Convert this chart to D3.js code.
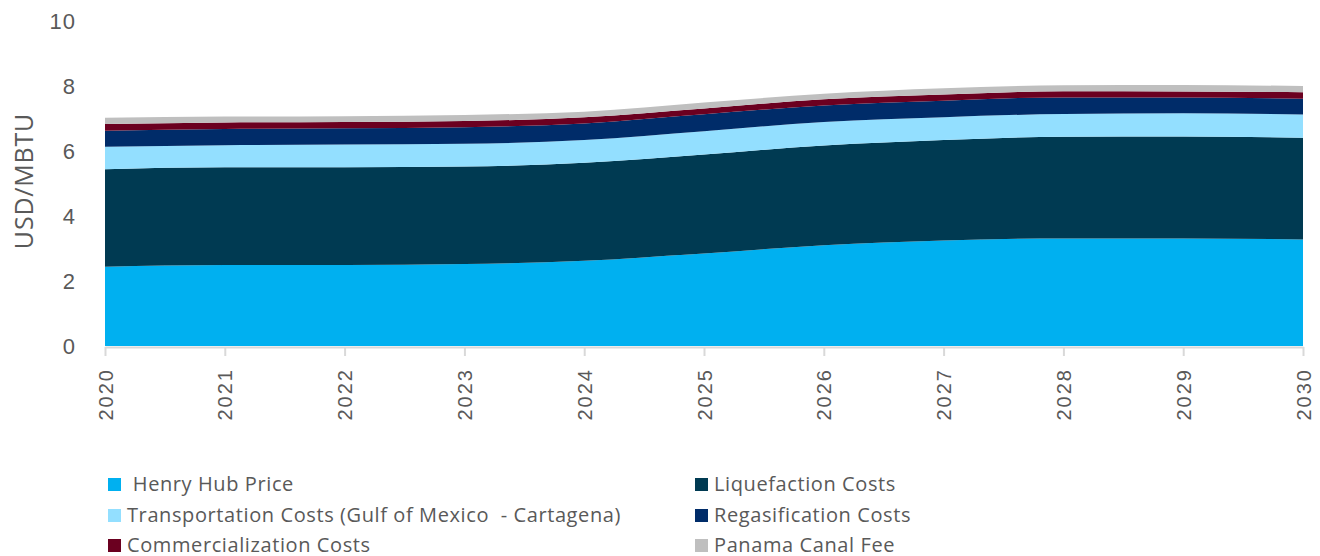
<!DOCTYPE html>
<html>
<head>
<meta charset="utf-8">
<script src="https://cdn.jsdelivr.net/npm/d3@7"></script>
<style>
  html, body { margin: 0; padding: 0; background: #fff; }
  svg { display: block; font-family: "Open Sans", Lato, sans-serif; }
</style>
</head>
<body>
<svg id="chart" width="1320" height="556"></svg>
<script>
// Years on the horizontal axis
const years = [2020, 2021, 2022, 2023, 2024, 2025, 2026, 2027, 2028, 2029, 2030];

// Cost components, USD/MBTU
const henryHub       = [2.44, 2.49, 2.49, 2.52, 2.62, 2.85, 3.10, 3.25, 3.31, 3.31, 3.28];
const liquefaction   = [3.00, 3.01, 3.01, 3.00, 3.02, 3.04, 3.07, 3.09, 3.13, 3.14, 3.13];
const transportation = [0.69, 0.68, 0.70, 0.70, 0.70, 0.72, 0.72, 0.70, 0.70, 0.71, 0.71];
const regasification = [0.49, 0.50, 0.50, 0.51, 0.51, 0.52, 0.51, 0.51, 0.51, 0.49, 0.49];
const commercial     = [0.21, 0.20, 0.19, 0.19, 0.19, 0.18, 0.19, 0.19, 0.19, 0.18, 0.20];
const panamaFee      = [0.19, 0.18, 0.18, 0.19, 0.17, 0.18, 0.17, 0.19, 0.18, 0.20, 0.19];

const yTicks = [0, 2, 4, 6, 8, 10];

const series = [
  { key: "hh",    label: " Henry Hub Price", values: henryHub,       color: "#00B0F0" },
  { key: "liq",   label: "Liquefaction Costs", values: liquefaction, color: "#003A52" },
  { key: "trans", label: "Transportation Costs (Gulf of Mexico  - Cartagena)", values: transportation, color: "#93DFFF" },
  { key: "regas", label: "Regasification Costs", values: regasification, color: "#002C69" },
  { key: "comm",  label: "Commercialization Costs", values: commercial, color: "#6B0020" },
  { key: "pan",   label: "Panama Canal Fee", values: panamaFee, color: "#BFBFBF" }
];

const rows = years.map((yr, i) => {
  const r = { year: yr };
  series.forEach(s => r[s.key] = s.values[i]);
  return r;
});

const svg = d3.select("#chart");
const W = 1320;

const x = d3.scaleLinear().domain([2020, 2030]).range([105, W - 17]);
const y = d3.scaleLinear().domain([0, 10]).range([346, 21]);

const stack = d3.stack().keys(series.map(s => s.key));
const layers = stack(rows);

const area = d3.area()
  .x(d => x(d.data.year))
  .y0(d => y(d[0]))
  .y1(d => y(d[1]))
  .curve(d3.curveMonotoneX);

svg.append("g").selectAll("path")
  .data(layers)
  .join("path")
  .attr("d", area)
  .attr("fill", (d, i) => series[i].color);

// Category axis
const xAxis = svg.append("g").attr("transform", `translate(0,${y(0) + 1})`)
  .call(d3.axisBottom(x).tickValues(years).tickFormat(d3.format("d")).tickSize(9).tickSizeOuter(0));
xAxis.select(".domain").attr("stroke", "#D9D9D9").attr("stroke-width", 2);
xAxis.selectAll(".tick line").attr("stroke", "#D9D9D9").attr("stroke-width", 2);
xAxis.selectAll(".tick text")
  .attr("fill", "#595959")
  .attr("font-size", 20)
  .attr("letter-spacing", 2)
  .attr("transform", "rotate(-90)")
  .attr("text-anchor", "end")
  .attr("x", -21)
  .attr("y", 0)
  .attr("dy", "0.35em");

// Value axis labels
const yAxis = svg.append("g").attr("transform", `translate(76,0)`)
  .call(d3.axisLeft(y).tickValues(yTicks).tickSize(0).tickPadding(0));
yAxis.select(".domain").remove();
yAxis.selectAll(".tick text")
  .attr("fill", "#595959")
  .attr("font-size", 22)
  .attr("letter-spacing", 1);

svg.append("text")
  .attr("transform", `translate(33,181) rotate(-90)`)
  .attr("text-anchor", "middle")
  .attr("fill", "#595959")
  .attr("font-size", 25)
  .attr("letter-spacing", 0.8)
  .text("USD/MBTU");

// Legend in two columns
const legendPos = [
  { x: 108, y: 491 }, { x: 695, y: 491 },
  { x: 108, y: 522 }, { x: 695, y: 522 },
  { x: 108, y: 552 }, { x: 695, y: 552 }
];
const legend = svg.append("g").selectAll("g")
  .data(series)
  .join("g")
  .attr("transform", (d, i) => `translate(${legendPos[i].x},${legendPos[i].y})`);
legend.append("rect")
  .attr("x", 0).attr("y", -13).attr("width", 13).attr("height", 13)
  .attr("fill", d => d.color);
legend.append("text")
  .attr("x", 19).attr("y", 0)
  .attr("fill", "#595959")
  .attr("font-size", 20)
  .attr("letter-spacing", 0.6)
  .style("white-space", "pre")
  .text(d => d.label);
</script>
</body>
</html>
